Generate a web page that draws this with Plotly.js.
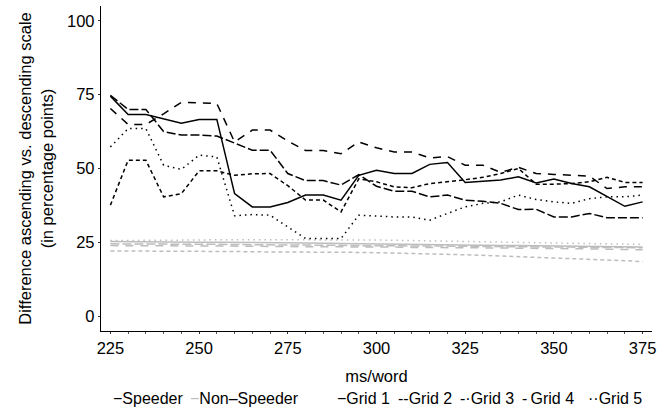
<!DOCTYPE html>
<html>
<head>
<meta charset="utf-8">
<script src="https://cdn.plot.ly/plotly-3.0.1.min.js"></script>
<style>html,body{margin:0;padding:0;background:#fff;}#chart{width:668px;height:409px;}</style>
</head>
<body>
<div id="chart"></div>
<script>
// ms/word (x)
const msPerWord = [225,230,235,240,245,250,255,260,265,270,275,280,285,290,295,300,305,310,315,320,325,330,335,340,345,350,355,360,365,370,375];

// Speeder (black)
const speederGrid1 = [74.5,68.3,68.3,66.8,65.3,66.6,66.6,41.5,37.0,37.0,38.5,41.0,41.0,39.3,47.7,49.4,48.3,48.3,51.4,52.0,45.3,45.7,46.1,47.2,45.1,46.4,44.9,43.8,40.4,37.2,38.7];
const speederGrid2 = [37.6,52.8,52.8,40.4,41.5,49.2,49.2,47.7,48.2,48.3,44.2,39.3,39.3,35.3,46.5,45.5,43.8,43.5,44.9,45.5,46.2,47.0,48.3,50.0,44.7,44.7,44.9,45.5,47.0,45.3,45.3];
const speederGrid3 = [74.8,70.0,70.0,62.5,61.3,61.3,61.0,58.5,56.2,56.2,48.3,45.9,45.9,44.4,47.9,44.0,42.3,42.3,40.4,41.0,39.3,38.9,38.2,36.1,36.2,33.6,33.6,34.8,33.3,33.3,33.3];
const speederGrid4 = [70.3,64.9,64.9,68.5,72.4,72.1,72.0,59.0,63.0,63.0,59.3,56.1,56.1,55.0,59.0,57.0,55.6,55.6,53.6,54.0,51.1,51.1,48.7,50.4,48.3,48.0,47.7,47.4,43.2,43.8,43.8];
const speederGrid5 = [57.3,63.5,63.5,51.1,49.7,54.5,53.9,34.0,34.4,34.2,30.2,26.3,26.3,26.3,34.2,33.8,33.6,33.6,32.5,34.8,37.0,38.2,38.7,41.0,39.5,38.7,38.2,39.8,40.4,40.4,41.0];

// Non-Speeder (grey)
const nonSpeederGrid1 = [25.3,25.2,25.2,25.1,25.1,25.0,25.0,25.0,24.9,24.9,24.9,24.8,24.7,24.6,24.5,24.4,24.3,24.3,24.2,24.1,24.1,24.0,23.9,23.9,23.8,23.8,23.7,23.6,23.6,23.5,23.4];
const nonSpeederGrid2 = [22.1,22.1,22.0,22.0,22.0,21.9,21.9,21.9,21.8,21.8,21.8,21.7,21.7,21.6,21.6,21.5,21.4,21.3,21.1,21.0,20.8,20.6,20.4,20.2,20.0,19.8,19.5,19.3,19.0,18.8,18.5];
const nonSpeederGrid3 = [24.5,24.5,24.4,24.4,24.4,24.3,24.3,24.3,24.2,24.2,24.1,24.1,24.0,24.0,23.9,23.9,23.8,23.8,23.8,23.7,23.7,23.6,23.6,23.5,23.5,23.4,23.4,23.3,23.3,23.2,23.2];
const nonSpeederGrid4 = [23.9,23.9,23.8,23.8,23.8,23.7,23.7,23.7,23.7,23.6,23.6,23.6,23.5,23.5,23.5,23.4,23.4,23.3,23.3,23.2,23.2,23.1,23.1,23.0,23.0,22.9,22.9,22.8,22.7,22.6,22.5];
const nonSpeederGrid5 = [25.6,25.6,25.7,25.7,25.8,25.8,25.9,25.9,26.0,26.0,26.0,26.0,26.0,26.0,25.9,25.8,25.7,25.6,25.5,25.4,25.3,25.2,25.1,25.0,24.9,24.8,24.7,24.6,24.5,24.4,24.3];

const gridNames = ["Grid 1","Grid 2","Grid 3","Grid 4","Grid 5"];
const groupNames = ["Speeder","Non\u2013Speeder"];
const xTicks = [225,250,275,300,325,350,375];
const yTicks = [0,25,50,75,100];

const BLACK = "#000000";
const GREY = "#bdbdbd";
const dashes = ["solid","4px,3px","9px,3px","8px,7px","1.5px,4px"];

const speeder = [speederGrid1,speederGrid2,speederGrid3,speederGrid4,speederGrid5];
const nonSpeeder = [nonSpeederGrid1,nonSpeederGrid2,nonSpeederGrid3,nonSpeederGrid4,nonSpeederGrid5];

const traces = [];
nonSpeeder.forEach((ys,i)=>traces.push({
  x: msPerWord, y: ys, type:"scatter", mode:"lines",
  name: groupNames[1]+" "+gridNames[i], showlegend:false, hoverinfo:"skip",
  line:{color:GREY, width:1.5, dash:dashes[i]}
}));
speeder.forEach((ys,i)=>traces.push({
  x: msPerWord, y: ys, type:"scatter", mode:"lines",
  name: groupNames[0]+" "+gridNames[i], showlegend:false, hoverinfo:"skip",
  line:{color:BLACK, width:1.5, dash:dashes[i]}
}));

const FONT = "Liberation Sans, Arial, sans-serif";
const FS = 16.5;
const LFS = 16;
const key = (txt,col)=>'<span style="color:'+col+'">'+txt+'</span>';

// legend items (text), laid out left to right below the x-axis title
const legendItems = [
  {text:key("\u2212",BLACK)+groupNames[0], px:112},
  {text:key("\u2212",GREY)+groupNames[1], px:189},
  {text:key("\u2212",BLACK)+gridNames[0], px:336},
  {text:key("--",BLACK)+gridNames[1], px:397},
  {text:key("-\u00b7",BLACK)+gridNames[2], px:459},
  {text:key("-\u2009",BLACK)+gridNames[3], px:521},
  {text:key("\u00b7\u00b7",BLACK)+gridNames[4], px:587}
];
const plotL = 101, plotW = 551;

const layout = {
  width:668, height:409,
  margin:{l:plotL, r:668-plotL-plotW, t:6, b:78},
  paper_bgcolor:"#ffffff", plot_bgcolor:"#ffffff",
  font:{family:FONT, size:FS, color:"#000"},
  showlegend:false,
  xaxis:{
    range:[222.35,377.65], tickvals:xTicks, ticktext:xTicks.map(String),
    showline:true, linecolor:"#000", linewidth:1.2, mirror:false,
    ticks:"outside", ticklen:2, tickcolor:"#333", tickwidth:1,
    minor:{dtick:5, tick0:225, ticks:"outside", ticklen:2, tickcolor:"#555", showgrid:false},
    showgrid:false, zeroline:false,
    tickfont:{family:FONT, size:FS, color:"#000"},
    title:{text:"ms/word", font:{family:FONT, size:FS, color:"#000"}, standoff:14}
  },
  yaxis:{
    range:[-5,105], tickvals:yTicks, ticktext:yTicks.map(String),
    showline:true, linecolor:"#000", linewidth:1.2, mirror:false,
    ticks:"outside", ticklen:2, tickcolor:"#333", tickwidth:1,
    showgrid:false, zeroline:false,
    tickfont:{family:FONT, size:FS, color:"#000"},
    title:{text:"Difference ascending vs. descending scale<br>(in percentage points)", font:{family:FONT, size:FS, color:"#000"}, standoff:9}
  },
  annotations: legendItems.map(it=>({
    xref:"paper", yref:"paper", x:(it.px-plotL)/plotW, y:-0.207,
    xanchor:"left", yanchor:"middle", showarrow:false, borderpad:0,
    text:it.text, font:{family:FONT, size:LFS, color:"#000"}
  }))
};

Plotly.newPlot("chart", traces, layout, {staticPlot:true, displayModeBar:false});
</script>
</body>
</html>
